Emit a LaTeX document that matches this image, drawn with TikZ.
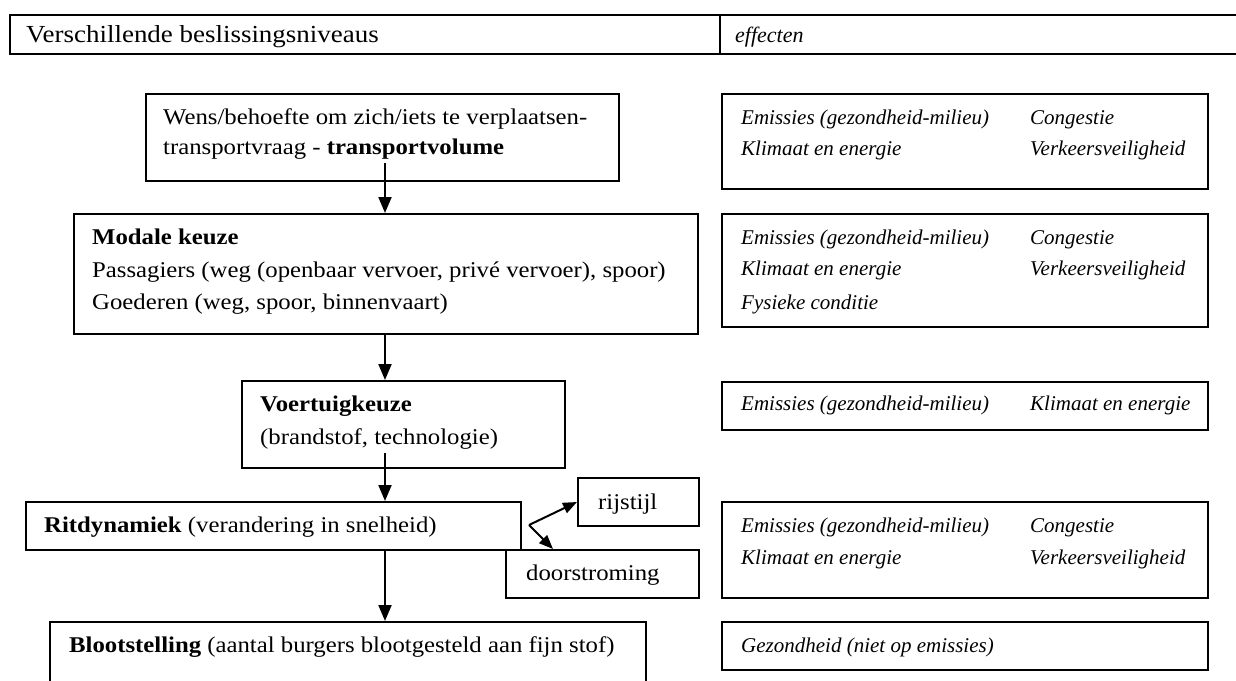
\documentclass[tikz,border=0pt]{standalone}
\usepackage{fontspec}
\setmainfont{Liberation Serif}[FakeStretch=1.1]
\newfontfamily\itfam{Liberation Serif}
\usetikzlibrary{arrows.meta,calc}
\newcommand\bodyfnt{\fontsize{22.5}{30}\selectfont}
\newcommand\headfnt{\fontsize{24.5}{30}\selectfont}
\newcommand\itfnt{\itfam\fontsize{21}{30}\selectfont\itshape}
\begin{document}
\begin{tikzpicture}[x=1pt,y=-1pt,
  box/.style={draw, line width=2pt, inner sep=0pt, anchor=north west},
  txt/.style={anchor=base west, inner sep=0pt, font=\bodyfnt},
  itxt/.style={anchor=base west, inner sep=0pt, font=\itfnt},
  htxt/.style={anchor=base west, inner sep=0pt, font=\headfnt},
  arr/.style={line width=2pt, -{Triangle[length=16pt,width=13pt]}},
  sarr/.style={line width=2pt, -{Triangle[length=14pt,width=11pt]}}]
\useasboundingbox (0,0) rectangle (1236,680);
\fill[white] (0,0) rectangle (1236,680);
% header
\node[box, minimum width=1250pt, minimum height=39pt] (hdr) at (9,14) {};
\coordinate (hdiv) at (720,14);
\draw[line width=2pt] (hdiv) -- (hdiv |- hdr.south);
\node[htxt] (h1) at (26,42) {Verschillende beslissingsniveaus};
\node[htxt, font=\itfam\fontsize{22}{30}\selectfont\itshape] (h2) at (735,42) {effecten};
% left column boxes
\node[box, minimum width=473pt, minimum height=87pt] (top) at (145,93) {};
\node[box, minimum width=624pt, minimum height=120pt] (mod) at (73,213) {};
\node[box, minimum width=323pt, minimum height=87pt] (voe) at (241,380) {};
\node[box, minimum width=495pt, minimum height=48pt] (rit) at (25,501) {};
\node[box, minimum width=121pt, minimum height=48pt] (rij) at (577,477) {};
\node[box, minimum width=193pt, minimum height=48pt] (door) at (505,549) {};
\node[box, minimum width=596pt, minimum height=90pt] (bloot) at (49,621) {};
% right column boxes
\node[box, minimum width=486pt, minimum height=95pt] (r1) at (721,93) {};
\node[box, minimum width=486pt, minimum height=113pt] (r2) at (721,213) {};
\node[box, minimum width=486pt, minimum height=48pt] (r3) at (721,381) {};
\node[box, minimum width=486pt, minimum height=96pt] (r4) at (721,501) {};
\node[box, minimum width=486pt, minimum height=48pt] (r5) at (721,621) {};
% texts left
\node[txt] (t1) at (163,124) {Wens/behoefte om zich/iets te verplaatsen-};
\node[txt] (t2) at (163,154) {transportvraag - \textbf{transportvolume}};
\node[txt] (m1) at (92,244) {\textbf{Modale keuze}};
\node[txt] (m2) at (92,277) {Passagiers (weg (openbaar vervoer, privé vervoer), spoor)};
\node[txt] (m3) at (92,309) {Goederen (weg, spoor, binnenvaart)};
\node[txt] (v1) at (260,411) {\textbf{Voertuigkeuze}};
\node[txt] (v2) at (260,444) {(brandstof, technologie)};
\node[txt] (rt) at (44,532) {\textbf{Ritdynamiek} (verandering in snelheid)};
\node[txt] (rjt) at (598,509) {rijstijl};
\node[txt] (dt) at (526,580) {doorstroming};
\node[txt] (bt) at (69,652) {\textbf{Blootstelling} (aantal burgers blootgesteld aan fijn stof)};
% texts right
\node[itxt] (e11) at (741,124) {Emissies (gezondheid-milieu)};
\node[itxt] (e12) at (1030,124) {Congestie};
\node[itxt] (e13) at (741,155) {Klimaat en energie};
\node[itxt] (e14) at (1030,155) {Verkeersveiligheid};
\node[itxt] (e21) at (741,244) {Emissies (gezondheid-milieu)};
\node[itxt] (e22) at (1030,244) {Congestie};
\node[itxt] (e23) at (741,275) {Klimaat en energie};
\node[itxt] (e24) at (1030,275) {Verkeersveiligheid};
\node[itxt] (e25) at (741,309) {Fysieke conditie};
\node[itxt] (e31) at (741,410) {Emissies (gezondheid-milieu)};
\node[itxt] (e32) at (1030,410) {Klimaat en energie};
\node[itxt] (e41) at (741,532) {Emissies (gezondheid-milieu)};
\node[itxt] (e42) at (1030,532) {Congestie};
\node[itxt] (e43) at (741,564) {Klimaat en energie};
\node[itxt] (e44) at (1030,564) {Verkeersveiligheid};
\node[itxt] (e51) at (741,652) {Gezondheid (niet op emissies)};
% arrows
\coordinate (a1) at (385,163);
\draw[arr] (a1) -- (a1 |- mod.north);
\coordinate (a2) at (385,333);
\draw[arr] (a2) -- (a2 |- voe.north);
\coordinate (a3) at (385,453);
\draw[arr] (a3) -- (a3 |- rit.north);
\coordinate (a4) at (385,549);
\draw[arr] (a4) -- (a4 |- bloot.north);
\coordinate (j) at (529,525);
\draw[sarr] (j) -- (rij.west);
\draw[sarr] (j) -- ($(door.north west)+(48,0)$);
\end{tikzpicture}
\end{document}
